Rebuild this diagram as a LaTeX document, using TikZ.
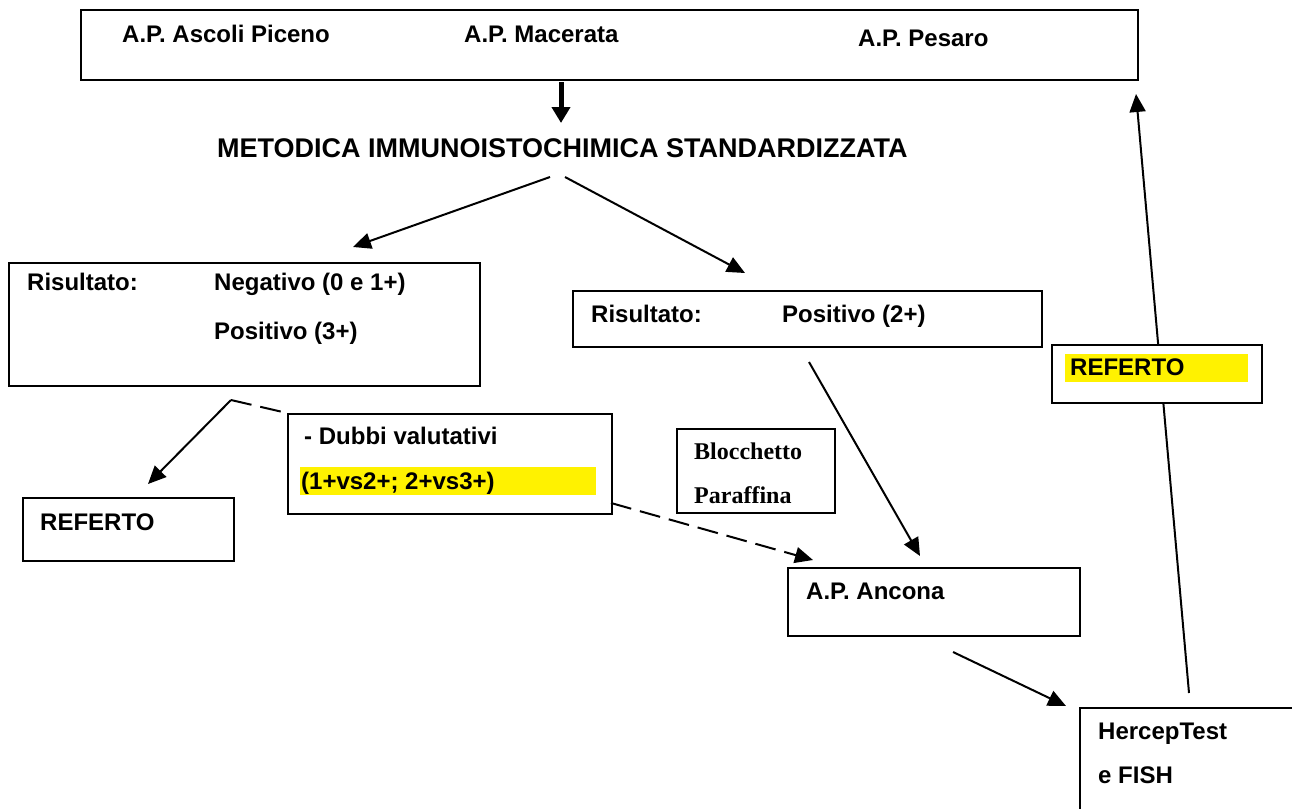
\documentclass[tikz,border=0pt]{standalone}
\usepackage{fontspec}
\setmainfont{Liberation Sans}
\newfontfamily\timesbold{Liberation Serif}
\usetikzlibrary{arrows.meta}

\begin{document}
\begin{tikzpicture}[x=1pt,y=-1pt,
  box/.style={draw, line width=1.8pt, fill=white, inner sep=0pt, anchor=north west},
  lbl/.style={font=\fontsize{24}{28}\selectfont\bfseries, inner sep=0pt, anchor=base west},
  serlbl/.style={font=\fontsize{24}{28}\selectfont\timesbold\bfseries, inner sep=0pt, anchor=base west},
  hl/.style={fill=yellow, inner sep=0pt, anchor=north west},
  tip/.style={-{Triangle[length=18pt,width=16pt]}},
  conn/.style={line width=2pt, tip},
  dashlink/.style={line width=2pt, dash pattern=on 21pt off 9pt},
]
\useasboundingbox (0,0) rectangle (1292,808);
\clip (0,0) rectangle (1292,808);

% connector end points
\coordinate (mtop)    at (561,82);
\coordinate (mtip)    at (561,123);
\coordinate (splitL)  at (550,177);
\coordinate (splitR)  at (565,177);
\coordinate (tipL)    at (353,247);
\coordinate (tipR)    at (745,273);
\coordinate (knee)    at (231,400);
\coordinate (tipRef)  at (148,484);
\coordinate (dubOut)  at (611,503);
\coordinate (tipAnc1) at (813,560);
\coordinate (posOut)  at (809,362);
\coordinate (tipAnc2) at (920,556);
\coordinate (ancOut)  at (953,652);
\coordinate (tipHer)  at (1066,706);
\coordinate (herOut)  at (1189,693);
\coordinate (tipTop)  at (1136,94);

% return path to the top box (drawn under the report box)
\draw[conn] (herOut) -- (tipTop);

% boxes
\node[box, minimum width=1057pt, minimum height=70pt] (top) at (80,9) {};
\node[box, minimum width=471pt, minimum height=123pt] (neg) at (8,262) {};
\node[box, minimum width=469pt, minimum height=56pt] (pos) at (572,290) {};
\node[box, minimum width=210pt, minimum height=58pt] (refR) at (1051,344) {};
\node[box, minimum width=211pt, minimum height=63pt] (refL) at (22,497) {};
\node[box, minimum width=324pt, minimum height=100pt] (dubbi) at (287,413) {};
\node[box, minimum width=158pt, minimum height=84pt] (blocco) at (676,428) {};
\node[box, minimum width=292pt, minimum height=68pt] (ancona) at (787,567) {};
\node[box, minimum width=260pt, minimum height=140pt] (hercep) at (1079,707) {};

% highlights
\node[hl, minimum width=296pt, minimum height=28pt] (hlD) at (300,467) {};
\node[hl, minimum width=183pt, minimum height=28pt] (hlR) at (1065,354) {};

% texts
\node[lbl] (tAscoli) at (122,42) {A.P. Ascoli Piceno};
\node[lbl] (tMacerata) at (464,42) {A.P. Macerata};
\node[lbl] (tPesaro) at (858,47) {A.P. Pesaro};
\node[lbl, font=\fontsize{27}{31}\selectfont\bfseries] (tMetodica) at (217,157) {METODICA IMMUNOISTOCHIMICA STANDARDIZZATA};
\node[lbl] (tRis1) at (27,290) {Risultato:};
\node[lbl] (tNeg) at (214,290) {Negativo (0 e 1+)};
\node[lbl] (tPos3) at (214,339) {Positivo (3+)};
\node[lbl] (tRis2) at (591,322) {Risultato:};
\node[lbl] (tPos2) at (782,322) {Positivo (2+)};
\node[lbl] (tRefR) at (1070,375) {REFERTO};
\node[lbl] (tRefL) at (40,530) {REFERTO};
\node[lbl] (tDubbi) at (304,444) {- Dubbi valutativi};
\node[lbl] (tVs) at (301,489) {(1+vs2+; 2+vs3+)};
\node[serlbl] (tBlocco) at (694,459) {Blocchetto};
\node[serlbl] (tParaffina) at (694,503) {Paraffina};
\node[lbl] (tAncona) at (806,599) {A.P. Ancona};
\node[lbl] (tHercep) at (1098,739) {HercepTest};
\node[lbl] (tFish) at (1098,783) {e FISH};

% connectors
\draw[line width=5pt, -{Triangle[length=16pt,width=18pt]}] (mtop) -- (mtip);
\draw[conn] (splitL) -- (tipL);
\draw[conn] (splitR) -- (tipR);
\draw[conn] (knee) -- (tipRef);
\draw[dashlink] (knee) -- (dubbi.north west);
\draw[dashlink, tip] (dubOut) -- (tipAnc1);
\draw[conn] (posOut) -- (tipAnc2);
\draw[conn] (ancOut) -- (tipHer);
\end{tikzpicture}
\end{document}
